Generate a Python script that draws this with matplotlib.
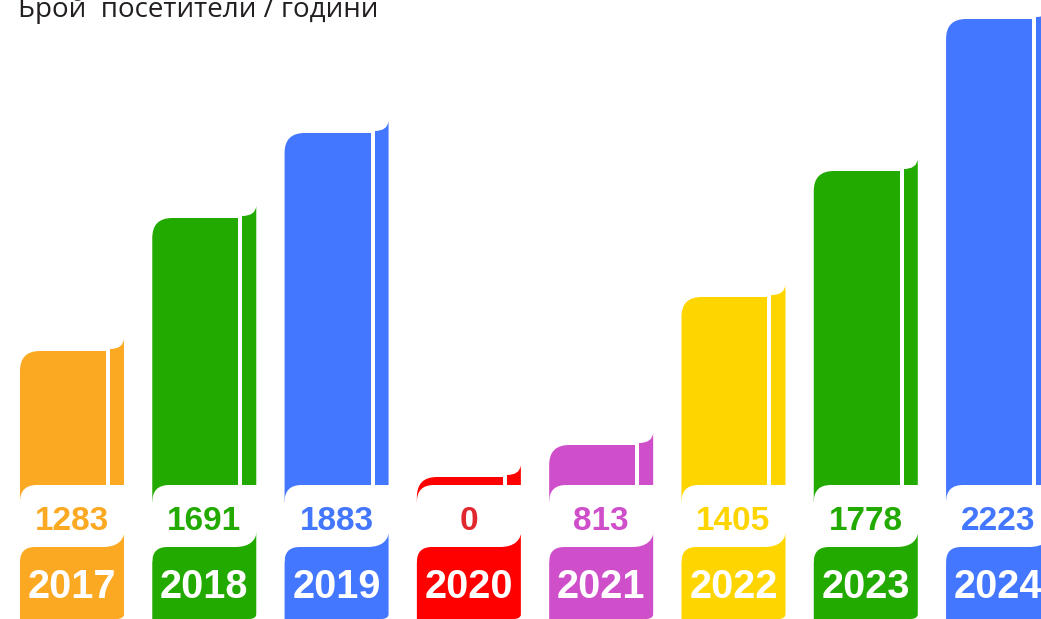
import matplotlib.pyplot as plt
from matplotlib.path import Path
from matplotlib.patches import PathPatch, Rectangle

# visitors per year (label values) and drawn bar heights
years = ['2017', '2018', '2019', '2020', '2021', '2022', '2023', '2024']
visitors = [1283, 1691, 1883, 0, 813, 1405, 1778, 2223]
bar_heights = [268, 401, 486, 142, 174, 322, 448, 600]
colors = ['#FBA923', '#22AA00', '#4477FF', '#FF0000',
          '#CF4FCB', '#FFD500', '#22AA00', '#4477FF']
value_colors = ['#FBA923', '#22AA00', '#4477FF', '#E0282E',
                '#CF4FCB', '#FFD500', '#22AA00', '#4477FF']

W, H = 1041, 619
fig = plt.figure(figsize=(W / 100, H / 100), dpi=100)
ax = fig.add_axes([0, 0, 1, 1])
x0, x1 = -0.544, -0.544 + W / 132.3
ax.set_xlim(x0, x1)
ax.set_ylim(0, H)
ax.axis('off')

sx = (x1 - x0) / W          # data units per pixel, horizontally
bw = 104                    # bar width in px
band_lo, band_hi = 72, 134  # white label band
M, L, C3 = Path.MOVETO, Path.LINETO, Path.CURVE3


def shape(left, pts, codes, color):
    verts = [(left + u * sx, v) for u, v in pts]
    ax.add_patch(PathPatch(Path(verts, codes), fc=color, ec='none', lw=0))


for i, (yr, val, h, c) in enumerate(zip(years, visitors, bar_heights, colors)):
    left = i - bw / 2 * sx
    r = 20
    # coloured body with rounded top-left and curled right strip
    shape(left,
          [(0, 0), (0, h - r), (0, h), (r, h), (89, h), (90, h + 2), (103, h + 2),
           (bw, h + 12), (bw, 0), (0, 0)],
          [M, L, C3, C3, L, L, C3, C3, L, L], c)
    # white stripe near the right edge
    ax.add_patch(Rectangle((left + 86 * sx, band_hi - 1), 4 * sx, h - band_hi + 16,
                           fc='white', ec='none', lw=0))
    # white label band with rounded corners
    rb = 17
    shape(left,
          [(rb, band_hi), (bw + 1, band_hi), (bw + 1, band_lo + 20),
           (bw + 1, band_lo), (bw + 1 - 22, band_lo), (15, band_lo),
           (0, band_lo), (0, band_lo - 15), (-1, band_lo - 15),
           (-1, band_hi - rb), (0, band_hi - rb), (0, band_hi), (rb, band_hi)],
          [M, L, L, C3, C3, L, C3, C3, L, L, L, C3, C3], 'white')
    # small rounding at bottom-right of the year box
    shape(left, [(bw + 1, 0), (bw + 1, 8), (bw + 1, 0), (bw - 7, 0), (bw + 1, 0)],
          [M, L, C3, C3, L], 'white')

    ax.text(i, 98, str(val), ha='center', va='center', fontsize=24,
            fontweight='bold', family='Liberation Sans', color=value_colors[i])
    ax.text(i, 32, yr, ha='center', va='center', fontsize=28.5,
            fontweight='bold', family='Liberation Sans', color='white')

fig.text(18 / W, (H - 16.5) / H, 'Брой  посетители / години', ha='left',
         va='baseline', fontsize=20, family='Open Sans', color='#231F20')

fig.savefig('out.png', dpi=100)
